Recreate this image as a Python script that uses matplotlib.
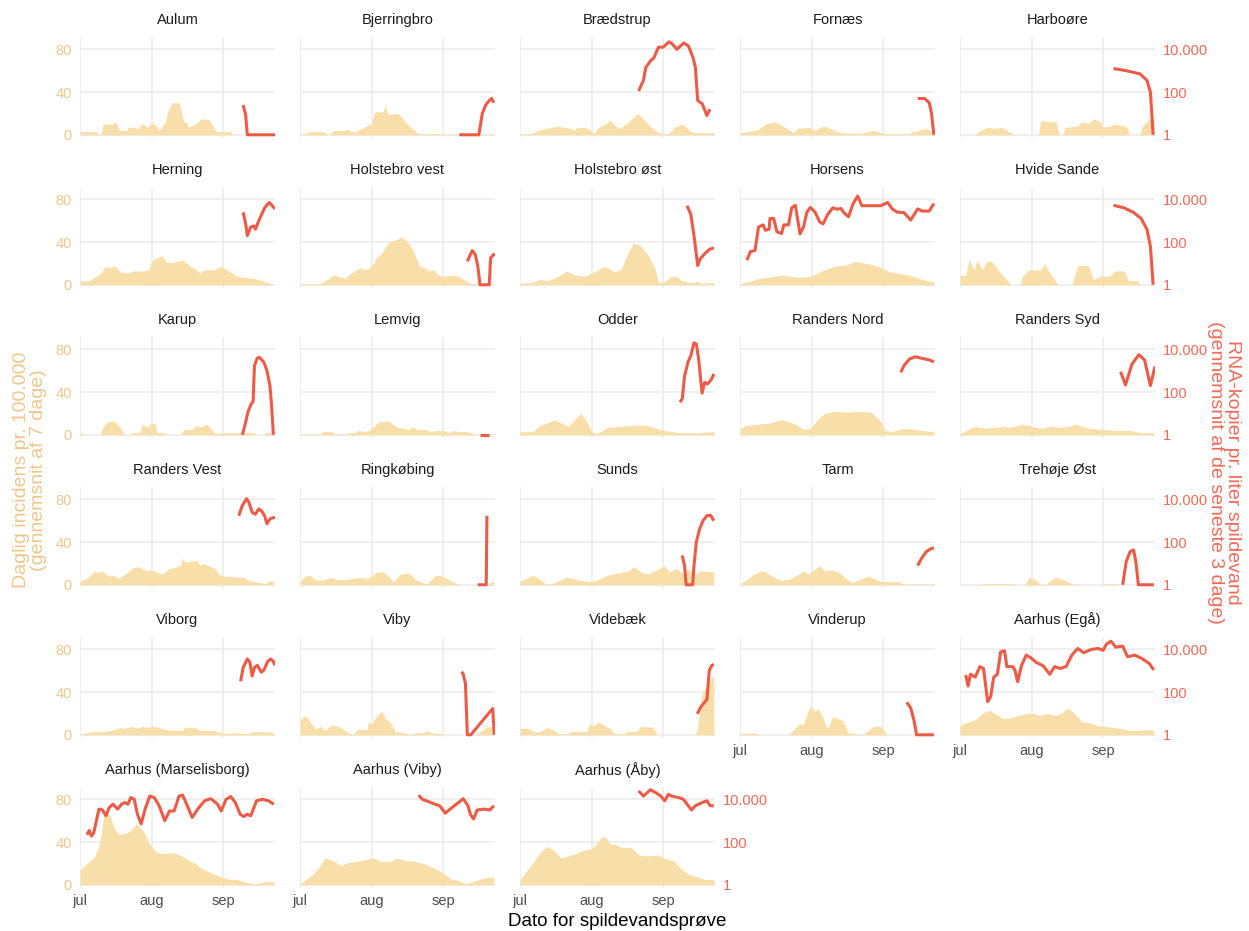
import numpy as np
import matplotlib
matplotlib.use("Agg")
import matplotlib.pyplot as plt
from matplotlib.ticker import FixedLocator, FixedFormatter, NullLocator

# ---------------- data (day offset from 1 July, value) ----------------
# incidence per 100.000 (7-day mean); RNA as log10(copies per liter)
INC_AULUM = [(0,3),(7,3),(8,0),(9,0),(10,10),(14,10),(15,12),(16,10),(17,4),(20,4),(21,7),(24,7),(25,5),(27,11),(29,7),(31,11),(33,9),(34,4),(35,6),(37,12),(38,22),(40,30),(43,30),(45,12),(46,12),(47,7),(48,8),(50,10),(52,14),(54,15),(56,14),(57,10),(59,3),(65,3),(66,0),(84,0)]
RNA_AULUM = [(70.7,1.39),(71.8,0.92),(72.5,0),(84.5,0)]

INC_BJERRINGBRO = [(0,0),(2,1),(4,3),(9,3),(11,2),(12,0),(13,0),(14,4),(19,4),(20,5),(21,5),(22,3),(24,3),(26,5),(28,7),(30,10),(31,9),(32,20),(33,22),(35,21),(36,22),(37,27),(38,19),(42,20),(44,17),(45.5,12),(48,7),(50,3),(51.5,1),(60,1),(62,0.5),(82,0.5),(83,1.5),(84,0.5)]
RNA_BJERRINGBRO = [(69,0),(77.5,0),(79,1.0),(80.5,1.4),(82,1.6),(83,1.7),(84,1.5)]

INC_BRAEDSTRUP = [(0,1),(5,1),(8.7,5),(14,7),(16,8),(19,7),(22,6),(23,4),(25,7),(28,7),(30,5),(32,1),(34,7),(37,10),(39,14),(41,9),(43,6),(46,10),(48,14),(51,20),(53,16),(55.5,10),(58.5,4),(61.5,1),(64.5,1),(66.7,7),(70,10),(71.5,8),(74,3),(76,2),(84,2)]
RNA_BRAEDSTRUP = [(51.4,2.05),(53.5,2.55),(54.5,3.15),(56.5,3.45),(58,3.6),(60,4.1),(62,4.1),(64.6,4.35),(66,4.25),(68,4.0),(71,4.3),(73,4.15),(75,3.6),(76,3.15),(77,1.6),(79,1.45),(81,0.9),(82.3,1.2)]

INC_FORNAES = [(0,2),(4,3),(8,5),(11,10),(15,12),(18,9),(21,5),(23,2),(25,6),(30,7),(32.5,4),(34.5,7),(37,8),(40,5),(43,2),(47,1.5),(53,1.5),(55,3),(58,4),(61,2),(63,1),(73,1),(75,3),(79,5),(81,6),(83.5,2),(84,2)]
RNA_FORNAES = [(77,1.7),(80,1.7),(82,1.5),(83,1.0),(84,0)]

INC_HARBOORE = [(0,0),(6.5,0),(8.6,4),(12,7),(15,6),(18,7),(21,3),(24,0),(34,0),(35,13),(41.6,12),(43,0),(44.5,0),(45.5,7),(50.6,8),(52.7,12),(56,11),(58,15),(61,12),(62,7),(65,8),(67,10),(72,8),(73.5,0),(78,0),(79,8),(81,12),(83,17),(84,17)]
RNA_HARBOORE = [(66.5,3.1),(72,3.0),(78,2.85),(81,2.55),(82.5,2.0),(83.7,0)]

INC_HERNING = [(0,3.5),(4,4),(7,8),(8.7,10),(11,17),(13,16),(15,18),(17.4,12),(21,11),(23,13),(27.5,13),(30,14),(31,22),(33,25),(35.5,27),(37.7,21),(40,21),(42,22),(44.6,23),(48,17),(50,15),(52,11),(53.6,14),(58,14),(61,17),(63,15),(65,12),(68,8),(71,7),(75,6),(77.5,5),(80,3),(82.6,1),(84,0)]
RNA_HERNING = [(70.7,3.39),(71.8,2.85),(72.5,2.3),(74,2.7),(75.4,2.75),(76,2.6),(77.5,3.0),(80,3.6),(82,3.85),(83.3,3.7),(84.5,3.55)]

INC_HOLSTEBRO_VEST = [(0,1),(8.6,1),(11,4),(13,7),(14.5,9),(16.5,8),(19.5,6),(21.6,10),(23.7,13),(26,16),(27.5,14),(29.7,15),(31.9,20),(33,25),(35.5,30),(38.4,40),(40.6,41),(44.2,45),(45.6,42),(47.8,37),(50,27),(52,17),(54.3,16),(55.7,13),(57.9,14),(60,9),(62,8),(66.7,9),(69.6,7),(71.7,4),(74,1),(77,0.5),(79,0),(84,0)]
RNA_HOLSTEBRO_VEST = [(72.5,1.1),(74.6,1.6),(76,1.4),(77,0.9),(78,0),(82,0),(82.6,1.25),(83.8,1.4),(84.5,1.45)]

INC_HOLSTEBRO_OST = [(0,1.5),(4.7,2),(8.7,5),(11.8,4),(14.8,6),(19,11),(20,13),(24,9),(28,8),(31,11),(34,14),(36,17),(38,16),(41,12),(44,15),(46,26),(49,39),(52,37),(55.5,28),(58.5,15),(60,2),(62.5,3),(65.6,8),(67.7,8),(70,4),(74,2),(77,3),(79,1),(81,2),(84,2)]
RNA_HOLSTEBRO_OST = [(72.4,3.7),(74,3.3),(75.4,2.3),(77,0.9),(78,1.2),(80,1.45),(82,1.65),(84,1.73)]

INC_HORSENS = [(0,1),(4,3),(8,6),(12,7),(15,8),(18,9),(22,8),(26,7),(30.5,8),(33.5,11),(36.6,14),(40.6,17),(46.7,19),(50,22),(52,21),(57,19),(61,16),(65,12),(71,10),(75,8),(79,5),(83,3),(84,3)]
RNA_HORSENS = [(3,1.15),(4.5,1.55),(6.5,1.6),(8,2.7),(10,2.8),(11,2.55),(12.6,2.6),(13,3.1),(14.6,3.1),(16,2.48),(18,2.4),(19,2.8),(21,2.8),(22.4,3.6),(24,3.72),(26,2.38),(27.5,2.7),(29,3.4),(30.5,3.62),(32.5,3.4),(34.5,2.95),(36,2.85),(38,3.29),(40.2,3.6),(42,3.54),(43.7,3.57),(45,3.38),(47,3.18),(49,3.8),(51,4.15),(52.8,3.7),(55,3.7),(61,3.7),(64,3.85),(66,3.55),(68,3.4),(71,3.38),(74,3.03),(77,3.55),(79,3.45),(82,3.45),(84,3.8)]

INC_HVIDE_SANDE = [(0,9),(2.5,9),(4,24),(6,14),(7.5,23),(9.6,14),(11.7,22),(13.7,22),(16.8,13),(20,5),(22,0),(26,0),(27,8),(30,14),(35,14),(36.7,20),(38,14),(40,8),(42.4,0),(48.5,0),(51,18),(55.7,18),(57.8,5),(61,8),(65,8),(67,13),(71,13),(73,4),(77,4),(78,0),(84,0)]
RNA_HVIDE_SANDE = [(66.5,3.72),(71,3.6),(75,3.4),(78.5,3.1),(81,2.6),(82.5,1.8),(83.7,0)]

INC_KARUP = [(0,2),(2,0),(8.7,0),(9.4,5),(11.6,12),(15,13),(18,5),(19,0),(21.7,0),(22.4,2),(26,2),(27,10),(29,7),(31,11),(32.6,11),(33.3,2),(36,2),(37.7,0),(43.5,0),(45,5),(48.6,5),(50.7,9),(52,7),(55,10),(57,5),(58.7,1),(62,2),(75.4,2),(76,0),(79.7,0),(80.4,2),(84,2)]
RNA_KARUP = [(70.3,0),(71.5,0.45),(72.8,1.08),(74.2,1.45),(75,1.55),(75.6,3.23),(76.8,3.59),(77.8,3.62),(79.7,3.39),(81,3.0),(82.3,2.3),(83,1.39),(83.8,0)]

INC_LEMVIG = [(0,0.5),(8.6,0.5),(10,3),(13.6,3),(15,1),(17,0.5),(20,0.5),(21,2),(24,2),(25,4),(28,3),(30,4),(32,8),(34,12),(38.4,13),(40,10),(42,7),(45,6),(47,5),(49,7),(50.7,5),(55,5),(56.5,3),(58.7,4),(62,4),(64.5,2),(66.7,4),(69,3),(72,3),(75,1),(76.5,0),(84,0)]
RNA_LEMVIG = [(78,0),(82,0)]

INC_ODDER = [(0,3),(5.7,3),(8.7,9),(11.8,11),(14.8,14),(17.9,11),(21,8),(24,15),(26.4,20),(29,12),(31,3),(33,1),(35,3),(38,7),(44.3,8),(49.4,9),(54.5,9),(57.5,7),(62.6,4),(68.7,2),(77,2),(84,3)]
RNA_ODDER = [(69.3,1.52),(70.3,1.68),(71.3,2.75),(72.8,3.4),(74,3.7),(75.4,4.3),(76.4,4.25),(77.4,3.55),(78.9,1.95),(80,2.45),(81.3,2.38),(83,2.6),(84,2.85)]

INC_RANDERS_NORD = [(0,6),(3,9),(8,10),(13,11),(18,14),(20,13),(24,10),(27.5,5),(30.5,6),(33.5,14),(36.6,20),(40.6,22),(46.7,21),(51.8,22),(57,21),(61,12),(63,4),(66,3),(69,5),(73,6),(79,4),(84,3)]
RNA_RANDERS_NORD = [(69.7,2.92),(71,3.23),(73.5,3.55),(76,3.65),(79,3.57),(82.2,3.5),(84,3.4)]

INC_RANDERS_SYD = [(0,1),(3.5,5),(6.6,8),(10.7,6),(14.8,7),(19,8),(21,7),(24,8),(27,10),(31,8),(35,6),(39,8),(43.5,7),(47.6,8),(49.6,10),(52.7,8),(55.8,6),(62,5),(68,4),(74,4),(78,2),(84,2)]
RNA_RANDERS_SYD = [(69.6,2.95),(71.7,2.33),(74.5,3.3),(77.5,3.75),(80,3.5),(82.5,2.3),(84.5,3.2)]

INC_RANDERS_VEST = [(0,3),(3,6),(5,10),(6.5,13),(7.5,11),(9.4,13),(11,11),(12.3,8),(14.5,9),(16.7,6),(18.8,9),(21,12),(23,16),(25.4,17),(27,15),(29,13),(31,14),(33,12),(36,10),(38.4,15),(40.6,16),(43.5,18),(44.6,25),(45.6,21),(47.8,22),(50.7,23),(52,18),(53.6,20),(56.5,17),(58.7,15),(60,10),(62.3,8),(65,8),(68,7),(71,7),(73,4),(75.4,3),(78,2),(80.4,1),(82,4),(84,3)]
RNA_RANDERS_VEST = [(68.8,3.23),(70.3,3.7),(72.2,4.03),(73.2,3.85),(74.6,3.39),(76,3.3),(77.5,3.55),(78.7,3.45),(80,3.23),(81,2.85),(82.3,3.08),(83.3,3.13),(84.5,3.15)]

INC_RINGKOBING = [(0,3),(2,8),(4.3,9),(6.5,5),(8.7,4),(11,5),(13,7),(16,5),(20,5),(23,6),(26,7),(29,6),(31,8),(33.3,12),(36,12),(38.4,8),(40.6,3),(43.5,10),(47,11),(50,5),(53,2),(55,1),(56.5,4),(58,8),(60,9),(63,7),(65,4),(68,1),(69.6,0),(82,0),(82.6,3),(84,3)]
RNA_RINGKOBING = [(77,0),(80.7,0),(81,3.23)]

INC_SUNDS = [(0,3),(2.6,6),(5.7,9),(8.7,5),(11.8,0),(13.5,1),(17,4),(20,7),(23,6),(26,4),(31,3),(34,5),(38,9),(42,11),(47,13),(49.4,17),(52.4,12),(55.5,10),(62.6,18),(64.6,12),(67.7,15),(70.7,11),(72.8,15),(75.8,9),(77.8,13),(84,12)]
RNA_SUNDS = [(70.3,1.37),(71.3,0.9),(72,0),(74.8,0),(75.4,0.9),(76.4,2.0),(77.8,2.6),(79.3,3.0),(81,3.23),(82.6,3.25),(84,3.0)]

INC_TARM = [(0,1),(3,5),(6,10),(9,13),(11,12),(14,8),(18,4),(22,6),(25.4,10),(27.4,13),(29.5,10),(32,14),(34.5,18),(36.6,13),(39.6,14),(42.7,12),(45.7,6),(48.8,2),(51.8,5),(55.9,8),(59,5),(61,3),(69,3),(71,0.5),(82,0.5),(84,1)]
RNA_TARM = [(77,0.9),(78.7,1.24),(80.7,1.55),(82.6,1.68),(84,1.73)]

INC_TREHOJE_OST = [(0,0),(8.6,0),(9.6,1),(23,1),(24,0),(28,0),(30,7),(32,6),(34,2),(35.5,0),(37,0),(39.3,4),(41.4,7),(43.5,6),(46.5,3),(48.5,1),(50.5,0),(62,0),(63,1),(68,1),(69,0),(84,0)]
RNA_TREHOJE_OST = [(70.5,0),(72,1.08),(73.7,1.55),(75.2,1.63),(76.2,1.08),(77.3,0),(84,0)]

INC_VIBORG = [(0,0.5),(3,2),(6.5,3),(10,3),(13,4),(15,5),(17.4,7),(19.6,6),(22.5,8),(24.6,6),(27,8),(29,7),(32,8),(34,7),(37,5),(40,4),(44,4),(45.6,7),(50,7),(52,4),(58,4),(61,2),(64,1),(66.7,2),(72.5,1),(75,3),(79.7,3),(84,2)]
RNA_VIBORG = [(69.6,2.5),(70.7,3.15),(72.5,3.55),(73.6,3.4),(74.6,2.75),(75.6,3.15),(76.8,3.25),(78.6,2.93),(79.7,3.03),(81.4,3.45),(82.6,3.54),(83.7,3.45),(84.5,3.25)]

INC_VIBY = [(0,14),(2,18),(3.6,15),(5,10),(7,5),(8.7,8),(11,4),(12.3,7),(13.8,9),(16.7,8),(18.8,5),(21,2),(23,0),(24.6,5),(29,5),(29.7,12),(31,10),(33.3,18),(35.5,22),(37,15),(39,12),(41.3,3),(45.6,2),(47.8,0),(50,2),(53.6,2),(55,4),(56.5,2),(61,1),(62,0),(76,0),(78,3),(81,7),(83,8),(84,8)]
RNA_VIBY = [(70,2.95),(70.7,2.85),(71.7,2.4),(72.5,0),(74,0),(83.5,1.23),(84.2,0)]

INC_VIDEBAEK = [(0,6),(3.7,6),(5.7,3),(8.7,3),(11.8,7),(14.8,4),(17,1),(21,1),(22,3),(29,3),(30,10),(32,9),(34,12),(37,8),(39,6),(41,1),(45,1),(46,3),(50.4,3),(52.4,8),(57.5,7),(59.6,0),(75.8,0),(76.8,5),(79,40),(81,45),(83,54),(84,55)]
RNA_VIDEBAEK = [(76.8,0.98),(78.3,1.3),(80,1.52),(81,1.65),(82,3.0),(83,3.23),(84,3.3)]

INC_VINDERUP = [(0,1.5),(7,1.5),(8,0),(21,0),(22.4,3),(25.4,10),(27.4,10),(29.5,22),(30.5,27),(32.5,22),(34,24),(36,16),(37.6,6),(38.6,9),(40.2,17),(42.7,15),(44.7,13),(46.7,2),(50.8,1),(53,0),(56,5),(58,8),(61,8),(63,2),(64,0),(84,0)]
RNA_VINDERUP = [(72.3,1.52),(74,1.24),(75.4,0.67),(76.5,0),(84,0)]

INC_EGA = [(0,9),(3.5,12),(6.6,14),(9.6,20),(12.7,23),(15.8,19),(18.8,15),(22,16),(25,18),(29,20),(32,20),(34,18),(38.3,20),(41.4,18),(44.5,21),(46.5,25),(48.6,22),(50.6,18),(52.7,12),(56.8,11),(59,9),(62,8),(66,7),(70,6),(73,4),(78,4),(81,5),(84,4)]
RNA_EGA = [(2.5,2.8),(3.5,2.28),(4.5,2.83),(6.6,2.7),(8.6,3.19),(10.2,3.1),(11,2.4),(12,1.55),(13.3,1.79),(14.6,2.7),(16.2,2.83),(17.6,3.88),(19.3,3.93),(20.3,3.19),(22.8,3.19),(23.8,3.03),(25,2.48),(26.6,3.23),(28.7,3.73),(30.7,3.6),(33,3.39),(36,3.23),(38.9,2.83),(41,3.19),(43.5,3.1),(46,3.2),(48.5,3.73),(51,4.04),(53.6,3.84),(56.8,3.99),(59.8,4.04),(62,3.95),(63.4,4.23),(65.4,4.38),(67.5,4.1),(70.5,4.15),(72.6,3.65),(75.7,3.73),(78.8,3.57),(82,3.34),(84,3.03)]

INC_MARSELISBORG = [(0,14),(3,20),(6,25),(8,35),(9,45),(10,60),(11,68),(13,65),(15,52),(17,47),(19.4,48),(21.4,50),(23.5,55),(24.5,57),(27.6,50),(29.6,40),(32.7,31),(35.7,29),(38.8,30),(40.8,30),(44,27),(47,23),(50,20),(53,15),(56,12),(59,9),(62,7),(65,5),(68,5),(71,3),(74.5,1),(77.5,1),(79.6,3),(84,3)]
RNA_MARSELISBORG = [(3,2.34),(4,2.54),(5,2.28),(6,2.45),(8.2,3.54),(9.8,3.5),(11.2,3.23),(12.7,3.62),(14.3,3.77),(16.3,3.54),(18,3.77),(19.4,3.85),(20.8,3.77),(22,4.08),(23.5,4.0),(24.9,3.3),(26.5,2.85),(28.2,3.54),(30.2,4.15),(32.2,4.08),(34.3,3.7),(36.7,3.0),(38.8,3.45),(40.8,3.45),(42.9,4.15),(44.5,4.19),(46.5,3.7),(48.6,3.15),(51,3.54),(54,3.93),(56.7,4.03),(59.6,3.77),(61.2,3.45),(63.3,4.0),(65.3,4.13),(67.3,3.85),(69.4,3.3),(71,3.19),(72.4,3.3),(74,3.23),(76.5,3.93),(79,4.0),(81.6,3.93),(84,3.77)]

INC_AARHUS_VIBY = [(0,1),(2.6,5),(5.7,10),(8.7,18),(10.8,25),(13.8,23),(17.9,18),(21,21),(25,22),(29,24),(32,25),(35,22),(39,22),(42,25),(45,23),(49.4,22),(53.5,20),(56.5,17),(59.6,14),(62.6,10),(65.7,5),(68.7,4),(71.7,1),(74.8,3),(77.8,5),(80.9,7),(84,7)]
RNA_AARHUS_VIBY = [(51.4,4.19),(53,4.0),(55.5,3.9),(58.5,3.77),(60.5,3.7),(63,3.35),(65.7,3.6),(68.7,3.85),(70.7,4.03),(72.8,3.7),(73.8,3.3),(75.2,3.08),(76.8,3.5),(79.8,3.54),(82.3,3.5),(84,3.7)]

INC_ABY = [(0,5),(2.5,12),(5.5,20),(8.6,30),(11.6,36),(14.7,32),(17.8,25),(20.8,27),(24,29),(27,32),(31,34),(33,38),(35,44),(37,45),(39,38),(41,38),(44,35),(48,35),(51.4,28),(55.5,27),(59.6,28),(62.6,25),(66.7,22),(69.8,15),(72.9,10),(76,8),(80,5),(84,5)]
RNA_ABY = [(51.4,4.39),(53.5,4.15),(55,4.3),(56.5,4.45),(59,4.3),(61,4.15),(62.7,3.93),(64.3,4.23),(65.7,4.15),(68.8,4.08),(70.8,4.0),(72.9,3.7),(74.3,3.5),(76,3.7),(79,3.85),(81,3.93),(82.4,3.7),(84,3.7)]

SITE_NAMES = ["Aulum", "Bjerringbro", "Brædstrup", "Fornæs", "Harboøre",
              "Herning", "Holstebro vest", "Holstebro øst", "Horsens", "Hvide Sande",
              "Karup", "Lemvig", "Odder", "Randers Nord", "Randers Syd",
              "Randers Vest", "Ringkøbing", "Sunds", "Tarm", "Trehøje Øst",
              "Viborg", "Viby", "Videbæk", "Vinderup", "Aarhus (Egå)",
              "Aarhus (Marselisborg)", "Aarhus (Viby)", "Aarhus (Åby)"]
INC_SERIES = [INC_AULUM, INC_BJERRINGBRO, INC_BRAEDSTRUP, INC_FORNAES, INC_HARBOORE,
              INC_HERNING, INC_HOLSTEBRO_VEST, INC_HOLSTEBRO_OST, INC_HORSENS, INC_HVIDE_SANDE,
              INC_KARUP, INC_LEMVIG, INC_ODDER, INC_RANDERS_NORD, INC_RANDERS_SYD,
              INC_RANDERS_VEST, INC_RINGKOBING, INC_SUNDS, INC_TARM, INC_TREHOJE_OST,
              INC_VIBORG, INC_VIBY, INC_VIDEBAEK, INC_VINDERUP, INC_EGA,
              INC_MARSELISBORG, INC_AARHUS_VIBY, INC_ABY]
RNA_SERIES = [RNA_AULUM, RNA_BJERRINGBRO, RNA_BRAEDSTRUP, RNA_FORNAES, RNA_HARBOORE,
              RNA_HERNING, RNA_HOLSTEBRO_VEST, RNA_HOLSTEBRO_OST, RNA_HORSENS, RNA_HVIDE_SANDE,
              RNA_KARUP, RNA_LEMVIG, RNA_ODDER, RNA_RANDERS_NORD, RNA_RANDERS_SYD,
              RNA_RANDERS_VEST, RNA_RINGKOBING, RNA_SUNDS, RNA_TARM, RNA_TREHOJE_OST,
              RNA_VIBORG, RNA_VIBY, RNA_VIDEBAEK, RNA_VINDERUP, RNA_EGA,
              RNA_MARSELISBORG, RNA_AARHUS_VIBY, RNA_ABY]

MONTH_DAYS = [0, 31, 62]
MONTH_LABELS = ["jul", "aug", "sep"]
INC_TICKS = [0, 40, 80]
RNA_TICKS = [1, 100, 10000]
RNA_TICK_LABELS = ["1", "100", "10.000"]

# ---------------- style ----------------
AREA_COLOR = "#F8DFA9"
INC_TEXT = "#EEC78C"
LINE_COLOR = "#EC5B46"
RNA_TEXT = "#F06A58"
GRID = "#EBEBEB"
plt.rcParams["font.family"] = ["Liberation Sans", "DejaVu Sans"]

W, H = 1249, 931
fig = plt.figure(figsize=(W / 100, H / 100), dpi=100)

NCOL = 5
PX_LEFT, PX_STEP_X, PX_W = 80, 220, 195
PX_TOP, PX_STEP_Y, PX_H = 37, 150, 101
YLIM = (-3.0, 91.5)      # incidence units; RNA: 20*log10(copies) aligned
XLIM = (0, 84.5)

n = len(SITE_NAMES)
for i in range(n):
    r, c = divmod(i, NCOL)
    left = PX_LEFT + PX_STEP_X * c
    top = PX_TOP + PX_STEP_Y * r
    ax = fig.add_axes([left / W, 1 - (top + PX_H) / H, PX_W / W, PX_H / H])
    inc = np.array(INC_SERIES[i], dtype=float)
    rna = np.array(RNA_SERIES[i], dtype=float)

    ax.fill_between(inc[:, 0], 0, inc[:, 1], color=AREA_COLOR, lw=0, zorder=2)
    ax.set_xlim(*XLIM)
    ax.set_ylim(*YLIM)
    ax.set_facecolor("none")
    for s in ax.spines.values():
        s.set_visible(False)
    ax.xaxis.set_major_locator(FixedLocator(MONTH_DAYS))
    ax.xaxis.set_major_formatter(FixedFormatter(MONTH_LABELS))
    ax.yaxis.set_major_locator(FixedLocator(INC_TICKS))
    ax.grid(True, color=GRID, lw=1.1, zorder=0)
    ax.set_axisbelow(True)
    ax.tick_params(length=0)
    ax.tick_params(axis="y", labelsize=10.5, labelcolor=INC_TEXT, pad=6)
    ax.tick_params(axis="x", labelsize=10.5, labelcolor="#4D4D4D", pad=4)
    if c != 0:
        ax.tick_params(axis="y", labelleft=False)
    below_empty = (i + NCOL) >= n
    if not below_empty:
        ax.tick_params(axis="x", labelbottom=False)

    ax2 = ax.twinx()
    ax2.set_yscale("log")
    ax2.set_ylim(10 ** (YLIM[0] / 20), 10 ** (YLIM[1] / 20))
    ax2.plot(rna[:, 0], 10 ** rna[:, 1], color=LINE_COLOR, lw=2.2,
             solid_capstyle="butt", solid_joinstyle="round", zorder=3)
    ax2.set_xlim(*XLIM)
    for s in ax2.spines.values():
        s.set_visible(False)
    ax2.yaxis.set_major_locator(FixedLocator(RNA_TICKS))
    ax2.yaxis.set_major_formatter(FixedFormatter(RNA_TICK_LABELS))
    ax2.yaxis.set_minor_locator(NullLocator())
    ax2.tick_params(length=0, labelsize=10.5, labelcolor=RNA_TEXT, pad=6)
    last_in_row = (c == NCOL - 1) or (i == n - 1)
    if not last_in_row:
        ax2.tick_params(axis="y", labelright=False)

    ax.text(0.5, 1 + 17 / PX_H, SITE_NAMES[i], transform=ax.transAxes,
            ha="center", va="center", fontsize=10.5, color="#1A1A1A")

fig.text(30 / W, 1 - 470 / H, "Daglig incidens pr. 100.000\n(gennemsnit af 7 dage)",
         rotation=90, ha="center", va="center", fontsize=14, color=INC_TEXT,
         multialignment="center", linespacing=0.95)
fig.text(1224 / W, 1 - 472 / H, "RNA-kopier pr. liter spildevand\n(gennemsnit af de seneste 3 dage)",
         rotation=270, ha="center", va="center", fontsize=14, color=RNA_TEXT,
         multialignment="center", linespacing=0.95)
fig.text(617 / W, 1 - 921 / H, "Dato for spildevandsprøve", ha="center", va="center",
         fontsize=13.5, color="black")

fig.savefig("out.png", dpi=100, facecolor="white")
